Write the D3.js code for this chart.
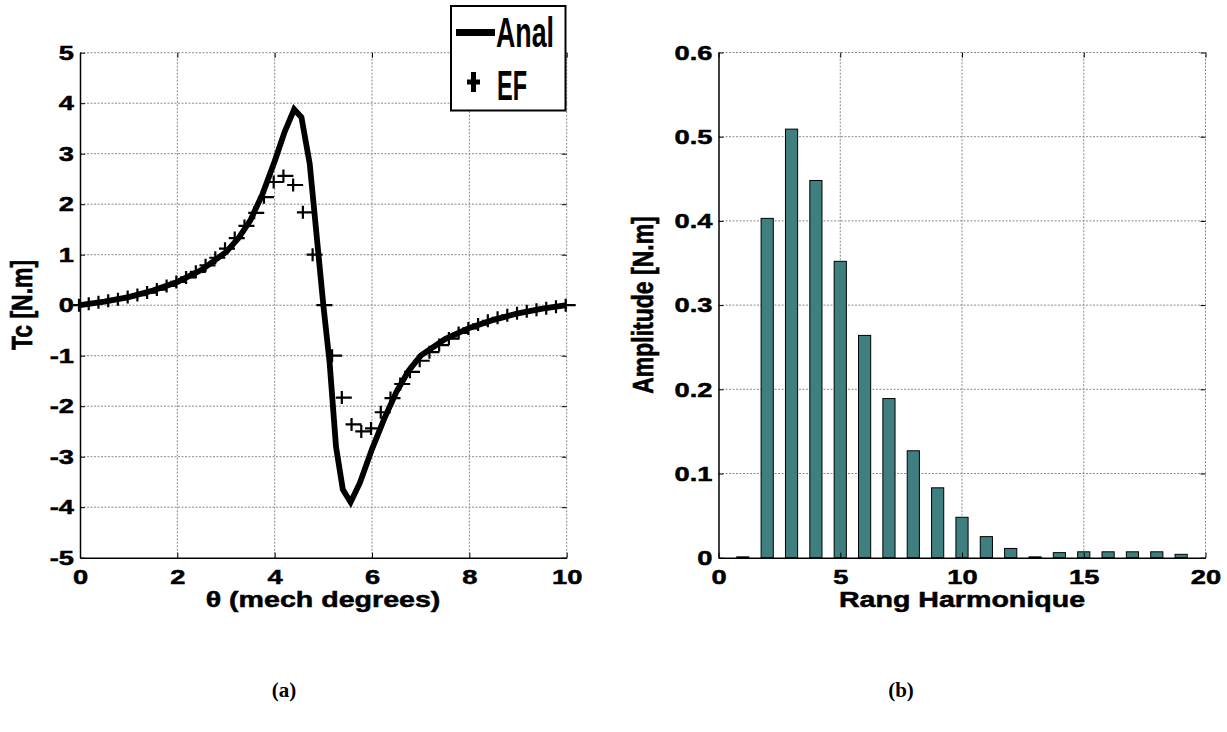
<!DOCTYPE html>
<html>
<head>
<meta charset="utf-8">
<script src="https://cdn.jsdelivr.net/npm/d3@7"></script>
<style>
  body { margin: 0; background: #fff; }
  svg { display: block; }
  text { font-family: "Liberation Sans", Arial, sans-serif; font-weight: bold; fill: #000; }
  text.heavy { stroke: #000; stroke-width: 0.5; }
  text.caption { font-family: "Liberation Serif", "Times New Roman", serif; }
</style>
</head>
<body>
<svg id="chart" width="1227" height="732"></svg>
<script>
/* (a) cogging torque vs rotor position, (b) its harmonic spectrum */

// (a) analytical curve
const analTheta = [0, 0.5, 1, 1.5, 2, 2.5, 3, 3.25, 3.5, 3.75, 4, 4.2, 4.4, 4.55, 4.72, 4.86, 5,
  5.13, 5.26, 5.4, 5.56, 5.75, 6, 6.25, 6.5, 6.75, 7, 7.5, 8, 8.5, 9, 9.5, 10];
const analTorque = [0, 0.07, 0.16, 0.29, 0.46, 0.7, 1.05, 1.32, 1.68, 2.2, 2.85, 3.42, 3.88, 3.72, 2.8, 1.4, 0,
  -1.15, -2.8, -3.65, -3.9, -3.52, -2.85, -2.25, -1.72, -1.3, -1.0, -0.67, -0.45, -0.29, -0.16, -0.07, 0];

// (a) finite element points
const efTheta = [0, 0.2, 0.4, 0.6, 0.8, 1, 1.2, 1.4, 1.6, 1.8, 2, 2.2, 2.4, 2.6, 2.8, 3, 3.2, 3.4, 3.6, 3.8,
  4, 4.2, 4.4, 4.6, 4.8, 5, 5.2, 5.4, 5.6, 5.8, 6, 6.2, 6.4, 6.6, 6.8, 7, 7.2, 7.4, 7.6, 7.8,
  8, 8.2, 8.4, 8.6, 8.8, 9, 9.2, 9.4, 9.6, 9.8, 10];
const efTorque = [0, 0.03, 0.06, 0.09, 0.12, 0.16, 0.2, 0.25, 0.31, 0.38, 0.46, 0.55, 0.66, 0.79, 0.94, 1.12, 1.33, 1.57, 1.83, 2.14,
  2.44, 2.56, 2.38, 1.84, 1.0, 0, -1.0, -1.83, -2.36, -2.5, -2.44, -2.12, -1.84, -1.56, -1.32, -1.1, -0.93, -0.79, -0.66, -0.55,
  -0.46, -0.38, -0.31, -0.25, -0.2, -0.16, -0.12, -0.09, -0.06, -0.03, 0];

const thetaTicks = [0, 2, 4, 6, 8, 10];
const torqueTicks = [-5, -4, -3, -2, -1, 0, 1, 2, 3, 4, 5];

// (b) harmonic amplitudes
const harmonicRank = [1, 2, 3, 4, 5, 6, 7, 8, 9, 10, 11, 12, 13, 14, 15, 16, 17, 18, 19];
const harmonicAmp = [0.001, 0.403, 0.509, 0.448, 0.352, 0.264, 0.189, 0.127, 0.083, 0.048, 0.025, 0.011,
  0.001, 0.006, 0.007, 0.007, 0.007, 0.007, 0.004];
const rankTicks = [0, 5, 10, 15, 20];
const ampTicks = [0, 0.1, 0.2, 0.3, 0.4, 0.5, 0.6];

const svg = d3.select('#chart');
const STRETCH = 1.3; // the figure is stretched sideways

// plain hyphen for negatives, like the original
const intFmt = d => String(d);
const ampFmt = d => d === 0 ? '0' : d.toFixed(1);

function drawGrid(g, x, y, xTicks, yTicks) {
  const [x0, x1] = x.range();
  const [y0, y1] = y.range();
  const grid = g.append('g').attr('stroke', '#8a8a8a').attr('stroke-width', 1).attr('stroke-dasharray', '2,1.5');
  grid.selectAll('.gx').data(xTicks.slice(1)).join('line')
    .attr('x1', d => x(d)).attr('x2', d => x(d)).attr('y1', y0).attr('y2', y1);
  grid.selectAll('.gy').data(yTicks.slice(1)).join('line')
    .attr('x1', x0).attr('x2', x1).attr('y1', d => y(d)).attr('y2', d => y(d));
}

function drawAxes(g, x, y, xTicks, yTicks, xFmt, yFmt) {
  const [x0, x1] = x.range();
  const [y0, y1] = y.range();

  const bottom = g.append('g').attr('transform', `translate(0,${y0})`)
    .call(d3.axisBottom(x).tickValues(xTicks).tickFormat(xFmt).tickSizeInner(-5).tickSizeOuter(0).tickPadding(11.5));
  const left = g.append('g').attr('transform', `translate(${x0},0)`)
    .call(d3.axisLeft(y).tickValues(yTicks).tickFormat(yFmt).tickSizeInner(-5).tickSizeOuter(0).tickPadding(4.6));
  g.append('g').attr('transform', `translate(0,${y1})`)
    .call(d3.axisTop(x).tickValues(xTicks).tickFormat('').tickSizeInner(-5).tickSizeOuter(0))
    .call(a => a.select('.domain').remove());
  g.append('g').attr('transform', `translate(${x1},0)`)
    .call(d3.axisRight(y).tickValues(yTicks).tickFormat('').tickSizeInner(-5).tickSizeOuter(0))
    .call(a => a.select('.domain').remove());

  [bottom, left].forEach(a => {
    a.select('.domain').attr('stroke', '#000').attr('stroke-width', 1.5);
    a.selectAll('text').attr('class', 'heavy').attr('font-size', 21).attr('fill', '#000')
      .attr('transform', `scale(${STRETCH},1)`);
  });
  left.selectAll('text').attr('x', -4.6);
  g.selectAll('.tick line').attr('stroke', '#000');
}

function xLabel(txt, cx, base) {
  svg.append('text').attr('class', 'heavy').attr('transform', `translate(${cx},${base}) scale(${STRETCH},1)`)
    .attr('text-anchor', 'middle').attr('font-size', 22).text(txt);
}

function yLabel(txt, base, cy) {
  svg.append('text').attr('class', 'heavy').attr('transform', `translate(${base},${cy}) rotate(-90) scale(1,${STRETCH})`)
    .attr('text-anchor', 'middle').attr('font-size', 23).text(txt);
}

// ---- (a) torque plot
const xa = d3.scaleLinear().domain([0, 10]).range([80, 566.7]);
const ya = d3.scaleLinear().domain([-5, 5]).range([557.7, 52.7]);
const ga = svg.append('g');
drawGrid(ga, xa, ya, thetaTicks, torqueTicks);

const analData = analTheta.map((t, i) => [t, analTorque[i]]);
ga.append('path').datum(analData)
  .attr('fill', 'none').attr('stroke', '#000').attr('stroke-width', 5.8).attr('stroke-linejoin', 'miter')
  .attr('d', d3.line().x(d => xa(d[0])).y(d => ya(d[1])));

const efData = efTheta.map((t, i) => [t, efTorque[i]]);
ga.append('g').attr('stroke', '#000').attr('stroke-width', 2.2)
  .selectAll('path').data(efData).join('path')
  .attr('d', d => {
    const px = xa(d[0]), py = ya(d[1]);
    return `M${px - 7},${py}H${px + 9}M${px - 1},${py - 6.5}V${py + 6.5}`;
  });

drawAxes(ga, xa, ya, thetaTicks, torqueTicks, intFmt, intFmt);
xLabel('θ (mech degrees)', 323, 607);
yLabel('Tc [N.m]', 32, 305);

// legend
const lg = svg.append('g');
lg.append('rect').attr('x', 451).attr('y', 6).attr('width', 114.5).attr('height', 104.5)
  .attr('fill', '#fff').attr('stroke', '#000').attr('stroke-width', 2);
lg.append('line').attr('x1', 456).attr('x2', 495).attr('y1', 32.5).attr('y2', 32.5)
  .attr('stroke', '#000').attr('stroke-width', 7);
lg.append('text').attr('x', 496).attr('y', 47.3).attr('font-size', 42)
  .attr('textLength', 58).attr('lengthAdjust', 'spacingAndGlyphs').attr('fill', '#111').text('Anal');
lg.append('path').attr('d', 'M467,82H480M473.5,72V92').attr('stroke', '#000').attr('stroke-width', 5);
lg.append('text').attr('x', 497).attr('y', 100).attr('font-size', 42)
  .attr('textLength', 30).attr('lengthAdjust', 'spacingAndGlyphs').attr('fill', '#111').text('EF');

// ---- (b) harmonic spectrum
const xb = d3.scaleLinear().domain([0, 20]).range([718.5, 1205.5]);
const yb = d3.scaleLinear().domain([0, 0.6]).range([557.7, 52.5]);
const gb = svg.append('g');
drawGrid(gb, xb, yb, rankTicks, ampTicks);

const barW = xb(0.5) - xb(0);
gb.append('g').selectAll('rect').data(harmonicRank).join('rect')
  .attr('x', d => xb(d) - barW / 2)
  .attr('y', (d, i) => yb(harmonicAmp[i]))
  .attr('width', barW)
  .attr('height', (d, i) => yb(0) - yb(harmonicAmp[i]))
  .attr('fill', '#3f7f7f').attr('stroke', '#000').attr('stroke-width', 1);

drawAxes(gb, xb, yb, rankTicks, ampTicks, intFmt, ampFmt);
xLabel('Rang Harmonique', 962, 607);
yLabel('Amplitude [N.m]', 653, 305);

// captions
svg.append('text').attr('class', 'caption').attr('x', 284).attr('y', 697).attr('text-anchor', 'middle')
  .attr('font-size', 21).text('(a)');
svg.append('text').attr('class', 'caption').attr('x', 901).attr('y', 697).attr('text-anchor', 'middle')
  .attr('font-size', 21).text('(b)');
</script>
</body>
</html>
